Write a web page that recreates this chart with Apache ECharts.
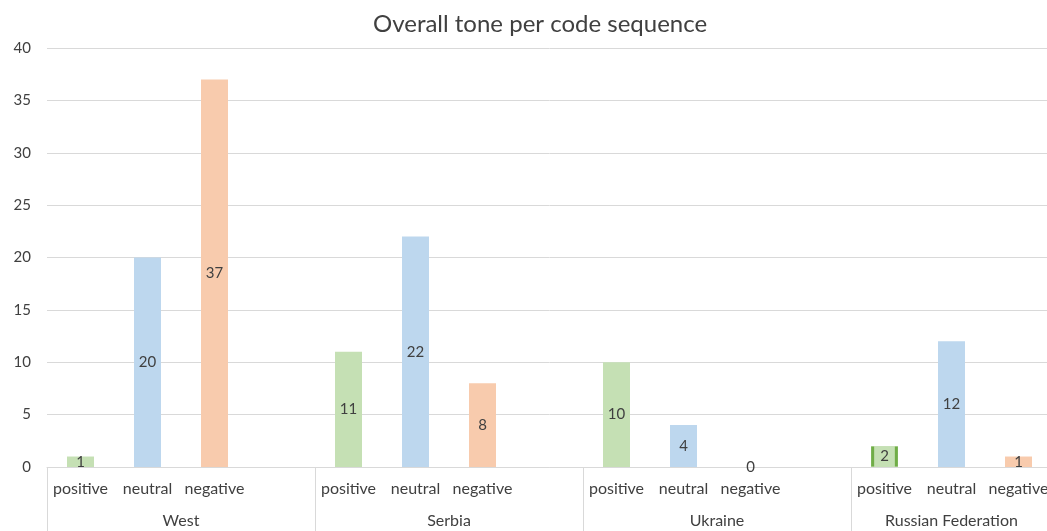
<!DOCTYPE html>
<html>
<head>
<meta charset="utf-8">
<style>html,body{margin:0;padding:0;background:#fff;overflow:hidden;width:1047px;height:531px}#c{width:1060px;height:531px}</style>
<script src="https://cdn.jsdelivr.net/npm/echarts@6/dist/echarts.min.js"></script>
</head>
<body>
<div id="c"></div>
<script>
const groups = ['West', 'Serbia', 'Ukraine', 'Russian Federation'];
const tones = ['positive', 'neutral', 'negative'];
const positive = [1, 11, 10, 2];
const neutral = [20, 22, 4, 12];
const negative = [37, 8, 0, 1];
const toneColors = ['#c5e0b4', '#bdd7ee', '#f8cbad'];
const yTicks = [0, 5, 10, 15, 20, 25, 30, 35, 40];

const cats = [];
const data = [];
const groupSizes = [];
const series3 = [positive, neutral, negative];
groups.forEach((g, gi) => {
  tones.forEach((t, ti) => {
    cats.push(t);
    const item = { value: series3[ti][gi], itemStyle: { color: toneColors[ti] } };
    if (g === 'Russian Federation' && t === 'positive') {
      item.label = {
        formatter: '{b|}{v|{c}}{b|}',
        rich: {
          b: { width: 3, height: 20, backgroundColor: '#70ad47' },
          v: { padding: [0, 6], fontSize: 15, color: '#404040', fontFamily: 'Lato' }
        }
      };
    }
    data.push(item);
  });
  if (gi < groups.length - 1) {
    cats.push('');
    data.push('-');
    groupSizes.push(tones.length + 1);
  } else {
    groupSizes.push(tones.length);
  }
});

const chart = echarts.init(document.getElementById('c'));
chart.setOption({
  animation: false,
  textStyle: { fontFamily: 'Lato' },
  title: {
    text: 'Overall tone per code sequence',
    left: 368, top: 7,
    textStyle: { fontFamily: 'Lato', fontSize: 24, fontWeight: 'normal', color: '#404040' }
  },
  grid: { left: 47, top: 48, bottom: 64, right: 8, containLabel: false },
  xAxis: {
    type: 'category', data: cats,
    axisLine: { lineStyle: { color: '#d9d9d9', width: 1 } },
    axisTick: { show: false },
    axisLabel: { interval: 0, margin: 14, fontSize: 16, color: '#404040', fontFamily: 'Lato' }
  },
  yAxis: {
    type: 'value', min: yTicks[0], max: yTicks[yTicks.length - 1], interval: yTicks[1] - yTicks[0],
    axisLine: { show: false }, axisTick: { show: false },
    splitLine: { lineStyle: { color: '#d9d9d9', width: 1 } },
    axisLabel: { margin: 16, fontSize: 15, color: '#404040', fontFamily: 'Lato' }
  },
  series: [{
    type: 'bar', data: data, barWidth: 27,
    label: { show: true, position: 'inside', fontSize: 15, color: '#404040', fontFamily: 'Lato' }
  }]
});

// group-level labels and separators, positioned through the category axis scale
const step = chart.convertToPixel({ xAxisIndex: 0 }, 1) - chart.convertToPixel({ xAxisIndex: 0 }, 0);
const axisY = chart.convertToPixel({ yAxisIndex: 0 }, 0);
const graphics = [];
let idx = 0;
groups.forEach((g, gi) => {
  const n = groupSizes[gi];
  const start = chart.convertToPixel({ xAxisIndex: 0 }, idx) - step / 2;
  const end = chart.convertToPixel({ xAxisIndex: 0 }, idx + n - 1) + step / 2;
  const sx = Math.round(start) + 0.5;
  graphics.push({ type: 'line', shape: { x1: sx, y1: axisY, x2: sx, y2: 531 }, style: { stroke: '#d9d9d9', lineWidth: 1 }, silent: true });
  graphics.push({ type: 'text', x: (start + end) / 2, y: axisY + 54, style: { text: g, fontSize: 16, fontFamily: 'Lato', fill: '#404040', align: 'center', verticalAlign: 'middle' }, silent: true });
  idx += n;
});
chart.setOption({ graphic: graphics });
</script>
</body>
</html>
